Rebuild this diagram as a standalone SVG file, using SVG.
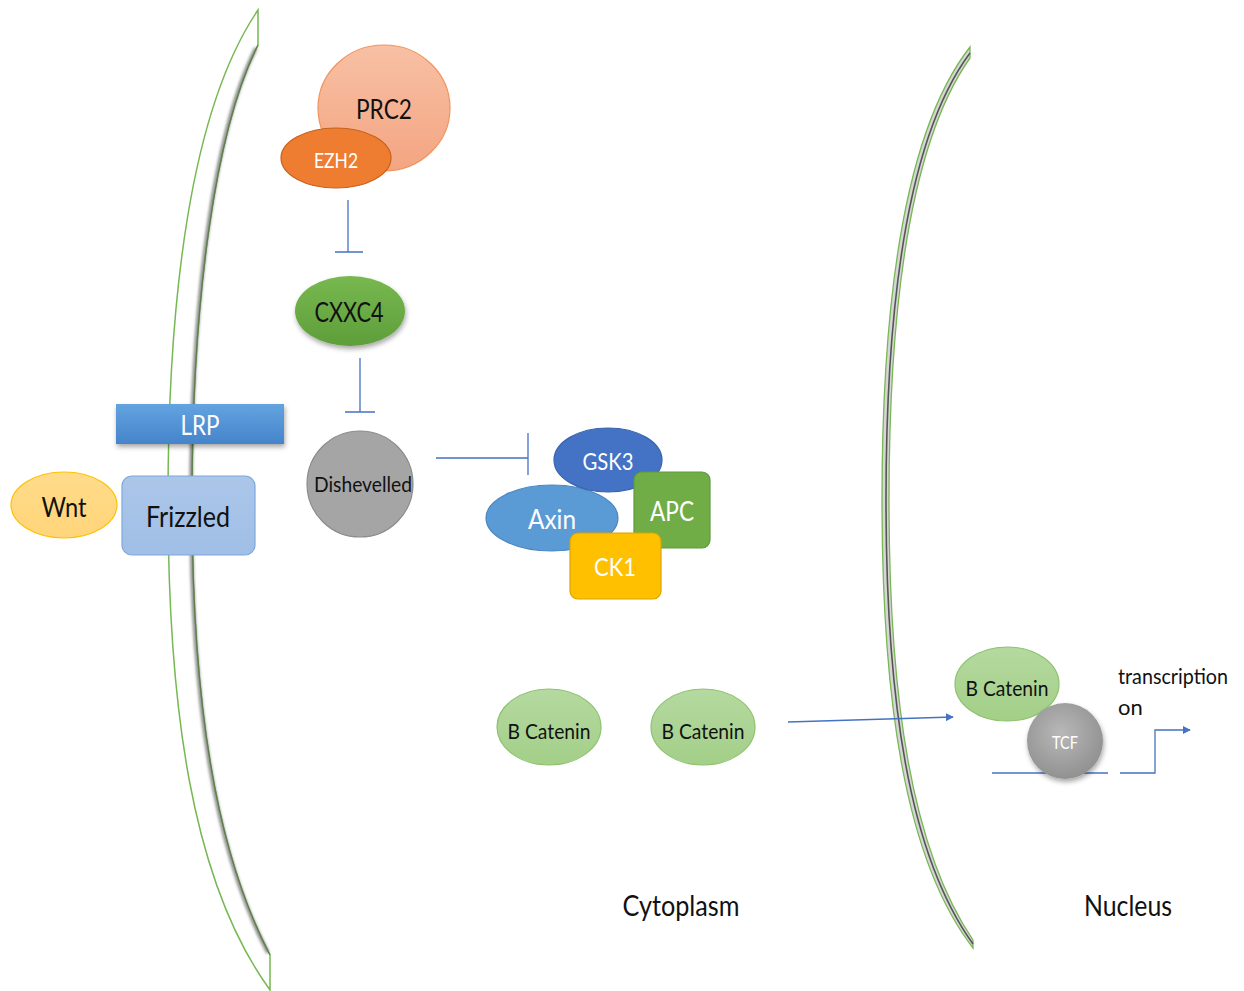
<svg xmlns="http://www.w3.org/2000/svg" width="1244" height="991" viewBox="0 0 1244 991">
<defs>
<style>
text{font-family:Lato,"Open Sans","Liberation Sans",sans-serif;text-anchor:middle;dominant-baseline:central}
.dk{fill:#111}
.wh{fill:#fff}
.inh{stroke:#4472C4;stroke-width:1.3;fill:none}
.bcat{fill:url(#gBcat);stroke:#8DC26F;stroke-width:1.2}
</style>
<linearGradient id="gPrc" x1="0" y1="0" x2="0" y2="1"><stop offset="0" stop-color="#F8C0A5"/><stop offset="1" stop-color="#F3A581"/></linearGradient>
<linearGradient id="gCx" x1="0" y1="0" x2="0" y2="1"><stop offset="0" stop-color="#78B850"/><stop offset="1" stop-color="#5E9E3A"/></linearGradient>
<linearGradient id="gLrp" x1="0" y1="0" x2="0" y2="1"><stop offset="0" stop-color="#63A3E0"/><stop offset="1" stop-color="#4584CA"/></linearGradient>
<linearGradient id="gFz" x1="0" y1="0" x2="0" y2="1"><stop offset="0" stop-color="#ABC6E9"/><stop offset="1" stop-color="#A0BEE6"/></linearGradient>
<linearGradient id="gWnt" x1="0" y1="0" x2="0" y2="1"><stop offset="0" stop-color="#FFDB8A"/><stop offset="1" stop-color="#FFD57A"/></linearGradient>
<linearGradient id="gBcat" x1="0" y1="0" x2="0" y2="1"><stop offset="0" stop-color="#B5D9A0"/><stop offset="1" stop-color="#A3CF88"/></linearGradient>
<radialGradient id="gTcf" cx="0.45" cy="0.4" r="0.65"><stop offset="0" stop-color="#B8B8B8"/><stop offset="1" stop-color="#8E8E8E"/></radialGradient>
<filter id="shd" x="-30%" y="-30%" width="160%" height="170%"><feDropShadow dx="1" dy="3" stdDeviation="2.5" flood-color="#000" flood-opacity="0.35"/></filter>
<filter id="soft" x="-30%" y="-30%" width="160%" height="160%"><feGaussianBlur stdDeviation="1.5"/></filter>
<marker id="arr" viewBox="0 0 10 10" refX="9" refY="5" markerWidth="8" markerHeight="8" markerUnits="userSpaceOnUse" orient="auto"><path d="M0,0 L10,5 L0,10 z" fill="#4472C4"/></marker>
</defs>
<rect width="1244" height="991" fill="#fff"/>

<g id="membrane-cell">
<path d="M258,10 C190,110 168,300 168,500 C168,700 190,880 270,990 L270,955 C215,850 192,700 192,500 C192,300 215,130 258,45 Z" fill="#fff" stroke="#76B852" stroke-width="1.5"/>
<path d="M256,48 C214,130 191,300 191,500 C191,700 214,850 268,953" fill="none" stroke="#777" stroke-width="3" filter="url(#soft)"/>
<path d="M258,45 C215,130 192,300 192,500 C192,700 215,850 270,955" fill="none" stroke="#5E7F4A" stroke-width="1.2"/>
</g>

<g id="membrane-nucleus">
<path d="M970,47 C905,130 882,300 882,500 C882,700 905,860 973,948 L973,940 C912,850 889,700 889,500 C889,300 912,140 970,58 Z" fill="#D6D6D6" stroke="#76B852" stroke-width="1.3"/>
<path d="M970,53 C909,135 886,300 886,500 C886,700 909,855 973,944" fill="none" stroke="#555" stroke-width="1.6"/>
</g>

<g id="connectors">
<path class="inh" d="M348,200 V252 M335,252 H363"/>
<path class="inh" d="M360,358 V412 M345,412 H375"/>
<path class="inh" d="M436,458 H528 M528,433 V475"/>
<path d="M788,722 L953,717" stroke="#4472C4" stroke-width="1.3" fill="none" marker-end="url(#arr)"/>
<path d="M992,773 H1108" stroke="#4472C4" stroke-width="1.3" fill="none"/>
<path d="M1120,773 H1155 V730 H1190" stroke="#4472C4" stroke-width="1.3" fill="none" marker-end="url(#arr)"/>
</g>

<g id="PRC2"><ellipse cx="384" cy="108" rx="66" ry="63" fill="url(#gPrc)" stroke="#F0945E" stroke-width="1.2"/><text x="384" y="108" class="dk" font-size="27" textLength="56" lengthAdjust="spacingAndGlyphs">PRC2</text></g>
<g id="EZH2"><ellipse cx="336" cy="158" rx="55" ry="30" fill="#EE7D31" stroke="#C8611B" stroke-width="1.2"/><text x="336" y="159" class="wh" font-size="21" textLength="44" lengthAdjust="spacingAndGlyphs">EZH2</text></g>
<g id="CXXC4"><ellipse cx="350" cy="311" rx="55" ry="35" fill="url(#gCx)" filter="url(#shd)"/><text x="349" y="312" class="dk" font-size="26" textLength="69" lengthAdjust="spacingAndGlyphs">CXXC4</text></g>
<g id="Dishevelled"><circle cx="360" cy="484" r="53" fill="#A5A5A5" stroke="#8C8C8C" stroke-width="1.2"/><text x="363" y="483" class="dk" font-size="22" textLength="98" lengthAdjust="spacingAndGlyphs">Dishevelled</text></g>

<g id="Axin"><ellipse cx="552" cy="518" rx="66" ry="33" fill="#5B9BD5" stroke="#4A86C0" stroke-width="1.2"/><text x="552" y="518" class="wh" font-size="27" textLength="48" lengthAdjust="spacingAndGlyphs">Axin</text></g>
<g id="GSK3"><ellipse cx="608" cy="460" rx="54" ry="32" fill="#4472C4" stroke="#3A64AE" stroke-width="1.2"/><text x="608" y="460" class="wh" font-size="24" textLength="51" lengthAdjust="spacingAndGlyphs">GSK3</text></g>
<g id="APC"><rect x="634" y="472" width="76" height="76" rx="8" fill="#70AD47" stroke="#5E9A3A" stroke-width="1.2"/><text x="672" y="511" class="wh" font-size="26" textLength="44" lengthAdjust="spacingAndGlyphs">APC</text></g>
<g id="CK1"><rect x="570" y="533" width="91" height="66" rx="8" fill="#FFC000" stroke="#D9A300" stroke-width="1.2"/><text x="615" y="566" class="wh" font-size="25" textLength="42" lengthAdjust="spacingAndGlyphs">CK1</text></g>

<g id="LRP"><rect x="116" y="404" width="168" height="40" fill="url(#gLrp)" filter="url(#shd)"/><text x="200" y="425" class="wh" font-size="26" textLength="39" lengthAdjust="spacingAndGlyphs">LRP</text></g>
<g id="Frizzled"><rect x="122" y="476" width="133" height="79" rx="10" fill="url(#gFz)" stroke="#7EA8DC" stroke-width="1.2"/><text x="188" y="516" class="dk" font-size="28" textLength="84" lengthAdjust="spacingAndGlyphs">Frizzled</text></g>
<g id="Wnt"><ellipse cx="64" cy="505" rx="53" ry="33" fill="url(#gWnt)" stroke="#FFC000" stroke-width="1.2"/><text x="64" y="506" class="dk" font-size="27" textLength="45" lengthAdjust="spacingAndGlyphs">Wnt</text></g>

<g id="BCatenin1"><ellipse class="bcat" cx="549" cy="727" rx="52" ry="38"/><text x="549" y="730" class="dk" font-size="22" textLength="83" lengthAdjust="spacingAndGlyphs">B Catenin</text></g>
<g id="BCatenin2"><ellipse class="bcat" cx="703" cy="727" rx="52" ry="38"/><text x="703" y="730" class="dk" font-size="22" textLength="83" lengthAdjust="spacingAndGlyphs">B Catenin</text></g>
<g id="BCatenin3"><ellipse class="bcat" cx="1007" cy="684" rx="52" ry="37"/><text x="1007" y="687" class="dk" font-size="22" textLength="83" lengthAdjust="spacingAndGlyphs">B Catenin</text></g>
<g id="TCF"><circle cx="1065" cy="741" r="38" fill="url(#gTcf)" filter="url(#shd)"/><text x="1065" y="742" class="wh" font-size="17" textLength="26" lengthAdjust="spacingAndGlyphs">TCF</text></g>

<g id="labels">
<text x="1118" y="675" class="dk" font-size="22" textLength="110" lengthAdjust="spacingAndGlyphs" style="text-anchor:start">transcription</text>
<text x="1118" y="706" class="dk" font-size="22" style="text-anchor:start">on</text>
<text x="681" y="905" class="dk" font-size="28" textLength="117" lengthAdjust="spacingAndGlyphs">Cytoplasm</text>
<text x="1128" y="905" class="dk" font-size="28" textLength="88" lengthAdjust="spacingAndGlyphs">Nucleus</text>
</g>
</svg>
